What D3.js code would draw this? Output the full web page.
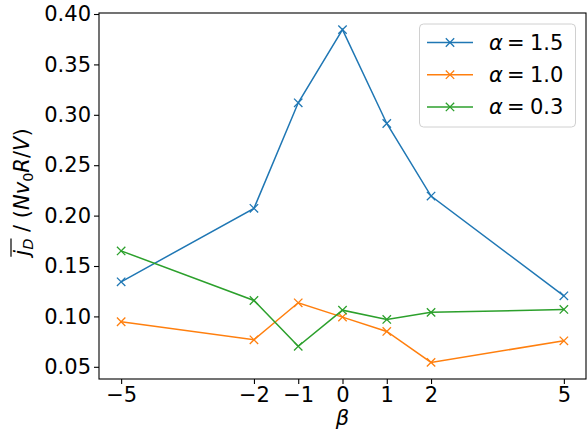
<!DOCTYPE html>
<html><head><meta charset="utf-8">
<script src="https://cdn.jsdelivr.net/npm/d3@7"></script>
<style>body{margin:0;background:#fff}svg{display:block}text{font-family:"DejaVu Sans",sans-serif}</style>
</head><body><svg id="c" width="588" height="435"></svg>
<script>
const betas = [-5, -2, -1, 0, 1, 2, 5];
const xTicks = [-5, -2, -1, 0, 1, 2, 5];
const yTicks = [0.05, 0.10, 0.15, 0.20, 0.25, 0.30, 0.35, 0.40];
const alpha15 = [0.1343, 0.2072, 0.3119, 0.3845, 0.2914, 0.2194, 0.1204];
const alpha10 = [0.0947, 0.0768, 0.1135, 0.0993, 0.0851, 0.0544, 0.0758];
const alpha03 = [0.1650, 0.1158, 0.0703, 0.1062, 0.0970, 0.1040, 0.1069];
const seriesNames = ["1.5", "1.0", "0.3"];
const colors = ["#1f77b4", "#ff7f0e", "#2ca02c"];
const seriesVals = [alpha15, alpha10, alpha03];

const svg = d3.select("#c");
const L = 99, R = 586, T = 13, B = 379;
const x = d3.scaleLinear().domain([-5.5, 5.5]).range([L, R]);
const yMin = 0.0379, yMax = 0.4010;
const y = d3.scaleLinear().domain([yMin, yMax]).range([B, T]);
const FS = 21;

// axes
const xAxis = d3.axisBottom(x).tickValues(xTicks).tickSize(5).tickPadding(3)
  .tickFormat(d => d < 0 ? "\u2212" + Math.abs(d) : String(d));
const gx = svg.append("g").attr("transform", `translate(0,${B})`).call(xAxis);
const yAxis = d3.axisLeft(y).tickValues(yTicks).tickSize(5).tickPadding(3)
  .tickFormat(d3.format(".2f"));
const gy = svg.append("g").attr("transform", `translate(${L},0)`).call(yAxis);
[gx, gy].forEach(g => {
  g.select(".domain").remove();
  g.selectAll("line").attr("stroke", "#000").attr("stroke-width", 1.1);
  g.selectAll("text").attr("font-size", FS).attr("fill", "#000")
    .attr("font-family", "DejaVu Sans");
});

// series
const line = d3.line().x((d, i) => x(betas[i])).y(d => y(d));
seriesVals.forEach((vals, k) => {
  svg.append("path").datum(vals).attr("d", line).attr("fill", "none")
    .attr("stroke", colors[k]).attr("stroke-width", 1.5);
  const m = 4.2;
  svg.append("g").selectAll("path").data(vals).join("path")
    .attr("d", (d, i) => {
      const cx = x(betas[i]), cy = y(d);
      return `M${cx-m},${cy-m}L${cx+m},${cy+m}M${cx-m},${cy+m}L${cx+m},${cy-m}`;
    })
    .attr("stroke", colors[k]).attr("stroke-width", 1.3).attr("fill", "none");
});

// frame
svg.append("rect").attr("x", L).attr("y", T).attr("width", R - L).attr("height", B - T)
  .attr("fill", "none").attr("stroke", "#000").attr("stroke-width", 1.1);

// legend
const lg = svg.append("g");
lg.append("rect").attr("x", 419.5).attr("y", 24).attr("width", 156).attr("height", 103)
  .attr("rx", 4).attr("fill", "#fff").attr("fill-opacity", 0.8)
  .attr("stroke", "#d0d0d0").attr("stroke-width", 1);
seriesNames.forEach((nm, k) => {
  const yy = 42.5 + k * 32.2;
  lg.append("line").attr("x1", 427).attr("x2", 473).attr("y1", yy).attr("y2", yy)
    .attr("stroke", colors[k]).attr("stroke-width", 1.5);
  const m = 4.2, cx = 450;
  lg.append("path").attr("d", `M${cx-m},${yy-m}L${cx+m},${yy+m}M${cx-m},${yy+m}L${cx+m},${yy-m}`)
    .attr("stroke", colors[k]).attr("stroke-width", 1.3);
  const t = lg.append("text").attr("y", yy + 7.5).attr("font-size", FS);
  t.append("tspan").attr("x", 489).attr("font-style", "italic").text("\u03b1");
  t.append("tspan").attr("x", 507).text("=");
  t.append("tspan").attr("x", 530).text(nm);
});

// x label
svg.append("text").attr("x", (L + R) / 2).attr("y", 425).attr("text-anchor", "middle")
  .attr("font-size", FS).attr("font-style", "italic").text("\u03b2");

// y label
const yl = svg.append("g").attr("transform", `translate(29,${(T + B) / 2 - 4}) rotate(-90)`);
const yt = yl.append("text").attr("text-anchor", "middle").attr("font-size", FS);
yt.append("tspan").attr("font-style", "italic").text("j");
yt.append("tspan").attr("font-style", "italic").attr("font-size", 14.5).attr("dy", 4).text("D");
yt.append("tspan").attr("dy", -4).text(" / (");
yt.append("tspan").attr("font-style", "italic").text("Nv");
yt.append("tspan").attr("font-size", 14.5).attr("dy", 4).text("0");
yt.append("tspan").attr("dy", -4).attr("font-style", "italic").text("R");
yt.append("tspan").text("/");
yt.append("tspan").attr("font-style", "italic").text("V");
yt.append("tspan").text(")");
const node = yt.node();
const e0 = node.getExtentOfChar(0), e1 = node.getExtentOfChar(1);
yl.append("line").attr("x1", e0.x - 1).attr("x2", e1.x + e1.width)
  .attr("y1", -18).attr("y2", -18).attr("stroke", "#000").attr("stroke-width", 1.2);
</script></body></html>
